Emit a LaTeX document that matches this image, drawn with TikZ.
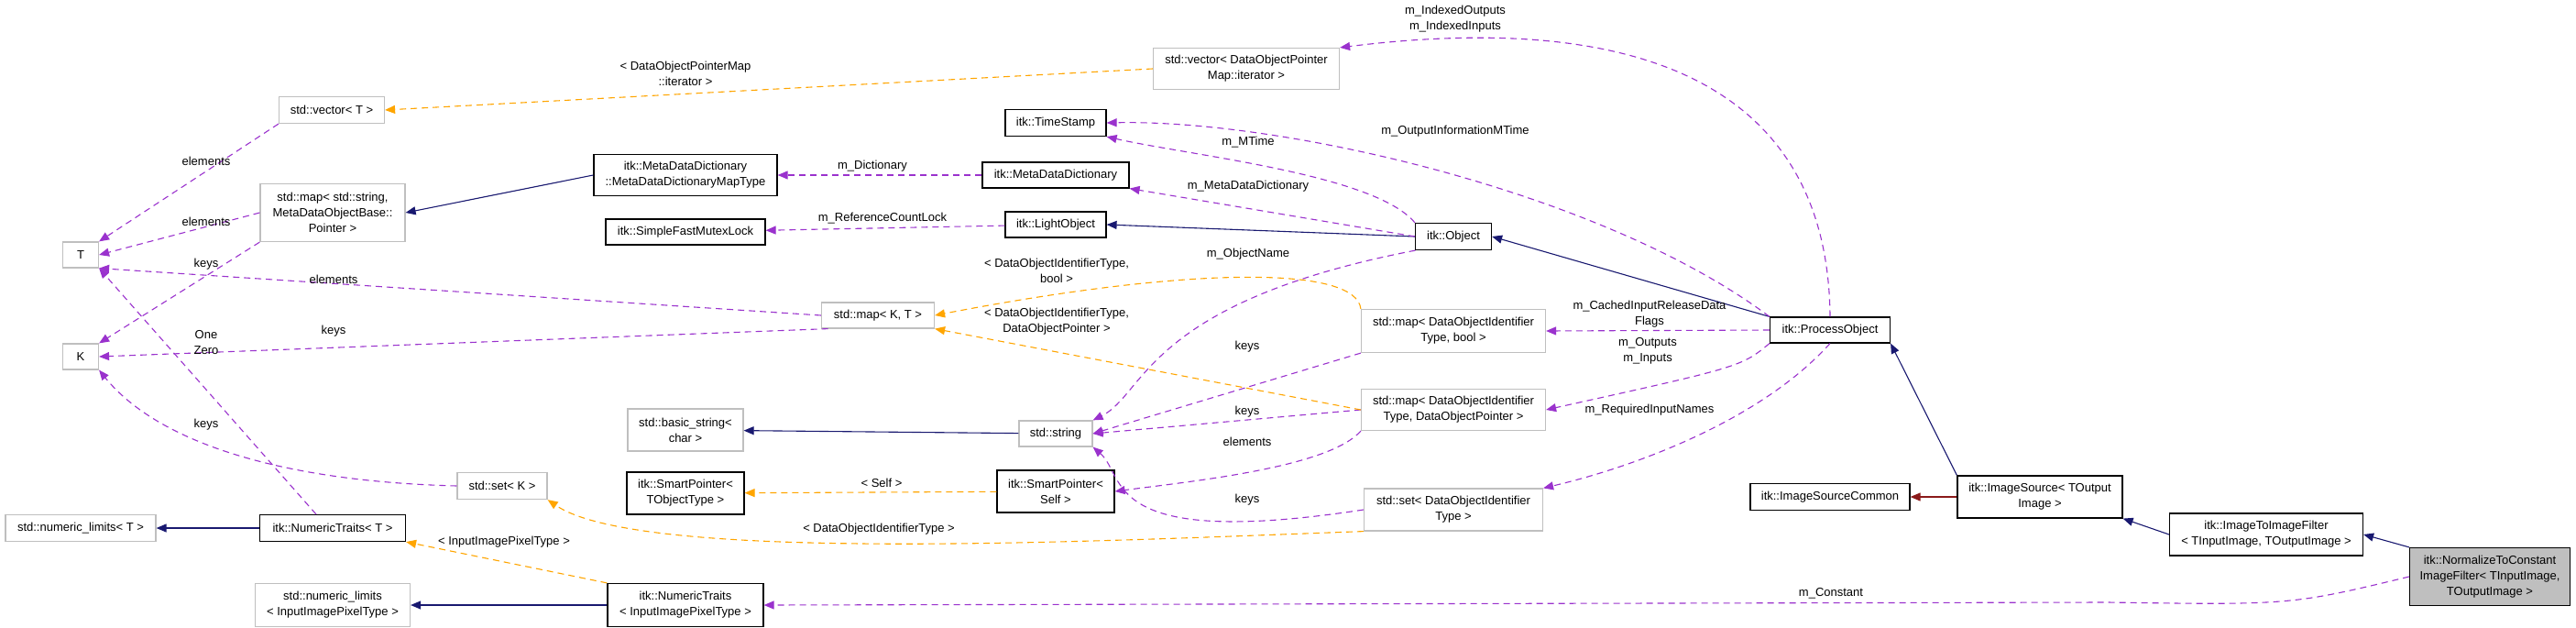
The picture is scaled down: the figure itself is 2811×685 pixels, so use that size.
\documentclass[tikz,border=0pt]{standalone}
\usepackage{fontspec}
\setmainfont{Liberation Sans}
\usetikzlibrary{arrows.meta}
\definecolor{usec}{HTML}{9A32CD}
\definecolor{tmplc}{HTML}{FFA500}
\definecolor{inhc}{HTML}{191970}
\definecolor{privc}{HTML}{8B1A1A}
\definecolor{grayb}{HTML}{BFBFBF}
\tikzset{
 every node/.style={font=\fontsize{13}{17}\selectfont, align=center, inner sep=0pt},
 cls/.style={draw=black, line width=1.2pt, fill=white},
 ucls/.style={draw=grayb, line width=1.2pt, fill=white},
 lbl/.style={fill=none},
 tip/.style={-{Triangle[length=11pt,width=9pt]}},
 inh/.style={tip, draw=inhc, line width=1.1pt},
 priv/.style={tip, draw=privc, line width=1.1pt},
 usage/.style={tip, draw=usec, dash pattern=on 7pt off 5pt, line width=1.1pt},
 tmpl/.style={tip, draw=tmplc, dash pattern=on 7pt off 5pt, line width=1.1pt},
}
\begin{document}
\begin{tikzpicture}[x=1pt,y=-1pt]
\useasboundingbox (0,0) rectangle (2811,685);
% nodes
\node[ucls,minimum width=115pt,minimum height=29pt] (vT) at (362,120) {std::vector< T >};
\node[ucls,minimum width=158pt,minimum height=63pt] (mstr) at (363,232) {std::map< std::string,\\ MetaDataObjectBase::\\Pointer >};
\node[ucls,minimum width=39pt,minimum height=28pt] (T) at (88,278) {T};
\node[ucls,minimum width=39pt,minimum height=28pt] (K) at (88,389) {K};
\node[cls,minimum width=200pt,minimum height=45pt] (mdmt) at (748,191) {itk::MetaDataDictionary\\::MetaDataDictionaryMapType};
\node[cls,minimum width=174pt,minimum height=28pt] (sfml) at (748,253) {itk::SimpleFastMutexLock};
\node[ucls,minimum width=126pt,minimum height=46pt] (bstr) at (748,469) {std::basic\_string<\\char >};
\node[cls,minimum width=128pt,minimum height=46pt] (spt) at (748,538) {itk::SmartPointer<\\TObjectType >};
\node[ucls,minimum width=98pt,minimum height=29pt] (setK) at (548,530) {std::set< K >};
\node[ucls,minimum width=164pt,minimum height=29pt] (nlT) at (88,576) {std::numeric\_limits< T >};
\node[cls,minimum width=159pt,minimum height=29pt] (ntT) at (363,576) {itk::NumericTraits< T >};
\node[ucls,minimum width=169pt,minimum height=47pt] (nlI) at (363,660) {std::numeric\_limits\\< InputImagePixelType >};
\node[cls,minimum width=170pt,minimum height=47pt] (ntI) at (748,660) {itk::NumericTraits\\< InputImagePixelType >};
\node[ucls,minimum width=203pt,minimum height=45pt] (vdop) at (1360,75) {std::vector< DataObjectPointer\\Map::iterator >};
\node[cls,minimum width=110pt,minimum height=29pt] (ts) at (1152,134) {itk::TimeStamp};
\node[cls,minimum width=160pt,minimum height=28pt] (mdd) at (1152,191) {itk::MetaDataDictionary};
\node[cls,minimum width=110pt,minimum height=28pt] (lo) at (1152,245) {itk::LightObject};
\node[cls,minimum width=83pt,minimum height=29pt] (obj) at (1586,258) {itk::Object};
\node[ucls,minimum width=123pt,minimum height=28pt] (mKT) at (958,344) {std::map< K, T >};
\node[ucls,minimum width=201pt,minimum height=47pt] (mb) at (1586,361) {std::map< DataObjectIdentifier\\Type, bool >};
\node[ucls,minimum width=201pt,minimum height=45pt] (mdp) at (1586,447) {std::map< DataObjectIdentifier\\Type, DataObjectPointer >};
\node[ucls,minimum width=80pt,minimum height=28pt] (str) at (1152,473) {std::string};
\node[cls,minimum width=128pt,minimum height=46pt] (sps) at (1152,536) {itk::SmartPointer<\\Self >};
\node[ucls,minimum width=195pt,minimum height=46pt] (sdo) at (1586,556) {std::set< DataObjectIdentifier\\Type >};
\node[cls,minimum width=131pt,minimum height=28pt] (po) at (1997,360) {itk::ProcessObject};
\node[cls,minimum width=174pt,minimum height=29pt] (isc) at (1997,542) {itk::ImageSourceCommon};
\node[cls,minimum width=180pt,minimum height=46pt] (is) at (2226,542) {itk::ImageSource< TOutput\\Image >};
\node[cls,minimum width=211pt,minimum height=46pt] (itif) at (2473,583) {itk::ImageToImageFilter\\< TInputImage, TOutputImage >};
\node[cls,fill=grayb,minimum width=175pt,minimum height=63pt] (ntc) at (2717,629) {itk::NormalizeToConstant\\ImageFilter< TInputImage,\\ TOutputImage >};
\coordinate (ntTa) at (345,561);
\coordinate (ntcb) at (2300,657);
% inheritance
\draw[inh] (mdmt.west) -- (mstr.east);
\draw[inh] (obj.west) -- (lo.east);
\draw[inh] (po.north west) -- (obj.east);
\draw[inh] (is.north west) -- (po.south east);
\draw[inh] (itif.west) -- (is.south east);
\draw[inh] (ntc.north west) -- (itif.east);
\draw[inh] (ntT) -- (nlT);
\draw[inh] (ntI) -- (nlI);
\draw[inh] (str) -- (bstr);
\draw[priv] (is) -- (isc);
% usage
\draw[usage] (vT.south west) -- (T.north east);
\draw[usage] (mstr.west) -- (T.east);
\draw[usage] (mstr.south west) -- (K.north east);
\draw[usage] (mKT.west) -- (T.south east);
\draw[usage] (mKT.195) -- (K.east);
\draw[usage] (setK.west) .. controls (300,525) and (170,480) .. (K.south east);
\draw[usage] (ntTa) -- (T.south east);
\draw[usage] (mdd) -- (mdmt);
\draw[usage] (lo) -- (sfml);
\draw[usage] (obj.north west) .. controls (1500,190) and (1300,170) .. (ts.south east);
\draw[usage] (obj.west) -- (mdd.south east);
\draw[usage] (obj.200) .. controls (1250,330) and (1250,430) .. (str.north east);
\draw[usage] (po.north west) .. controls (1750,210) and (1400,130) .. (ts.east);
\draw[usage] (po.north) .. controls (1995,100) and (1800,10) .. (vdop.north east);
\draw[usage] (po.west) -- (mb.east);
\draw[usage] (po.south west) .. controls (1900,400) .. (mdp.east);
\draw[usage] (po.south) .. controls (1920,460) and (1780,510) .. (sdo.north east);
\draw[usage] (mb.south west) -- (str.east);
\draw[usage] (mdp.west) -- (str.east);
\draw[usage] (mdp.south west) .. controls (1450,510) and (1300,525) .. (sps.east);
\draw[usage] (sdo.west) .. controls (1200,600) and (1230,520) .. (str.south east);
\draw[usage] (ntc.west) .. controls (2500,660) .. (ntcb) -- (ntI.east);
% templates
\draw[tmpl] (vdop.west) -- (vT.east);
\draw[tmpl] (mb.north west) .. controls (1480,290) and (1300,290) .. (mKT.east);
\draw[tmpl] (mdp.west) -- (mKT.south east);
\draw[tmpl] (sps) -- (spt);
\draw[tmpl] (sdo.south west) .. controls (1200,590) and (700,615) .. (setK.south east);
\draw[tmpl] (ntI.north west) -- (ntT.south east);
% labels
\node[lbl] (l1) at (748,80) {< DataObjectPointerMap\\::iterator >};
\node[lbl] (l2) at (225,176) {elements};
\node[lbl] (l3) at (225,242) {elements};
\node[lbl] (l4) at (225,288) {keys};
\node[lbl] (l5) at (364,305) {elements};
\node[lbl] (l6) at (225,374) {One\\Zero};
\node[lbl] (l7) at (364,361) {keys};
\node[lbl] (l8) at (225,463) {keys};
\node[lbl] (l9) at (550,591) {< InputImagePixelType >};
\node[lbl] (l10) at (959,577) {< DataObjectIdentifierType >};
\node[lbl] (l11) at (962,527) {< Self >};
\node[lbl] (l12) at (952,181) {m\_Dictionary};
\node[lbl] (l13) at (963,238) {m\_ReferenceCountLock};
\node[lbl] (l14) at (1362,155) {m\_MTime};
\node[lbl] (l15) at (1588,143) {m\_OutputInformationMTime};
\node[lbl] (l16) at (1362,203) {m\_MetaDataDictionary};
\node[lbl] (l17) at (1362,277) {m\_ObjectName};
\node[lbl] (l18) at (1153,295) {< DataObjectIdentifierType,\\ bool >};
\node[lbl] (l19) at (1153,351) {< DataObjectIdentifierType,\\ DataObjectPointer >};
\node[lbl] (l20) at (1361,378) {keys};
\node[lbl] (l21) at (1361,449) {keys};
\node[lbl] (l22) at (1361,482) {elements};
\node[lbl] (l23) at (1361,545) {keys};
\node[lbl] (l24) at (1588,21) {m\_IndexedOutputs\\m\_IndexedInputs};
\node[lbl] (l25) at (1800,343) {m\_CachedInputReleaseData\\Flags};
\node[lbl] (l26) at (1798,383) {m\_Outputs\\m\_Inputs};
\node[lbl] (l27) at (1800,447) {m\_RequiredInputNames};
\node[lbl] (l28) at (1998,647) {m\_Constant};
\end{tikzpicture}
\end{document}
